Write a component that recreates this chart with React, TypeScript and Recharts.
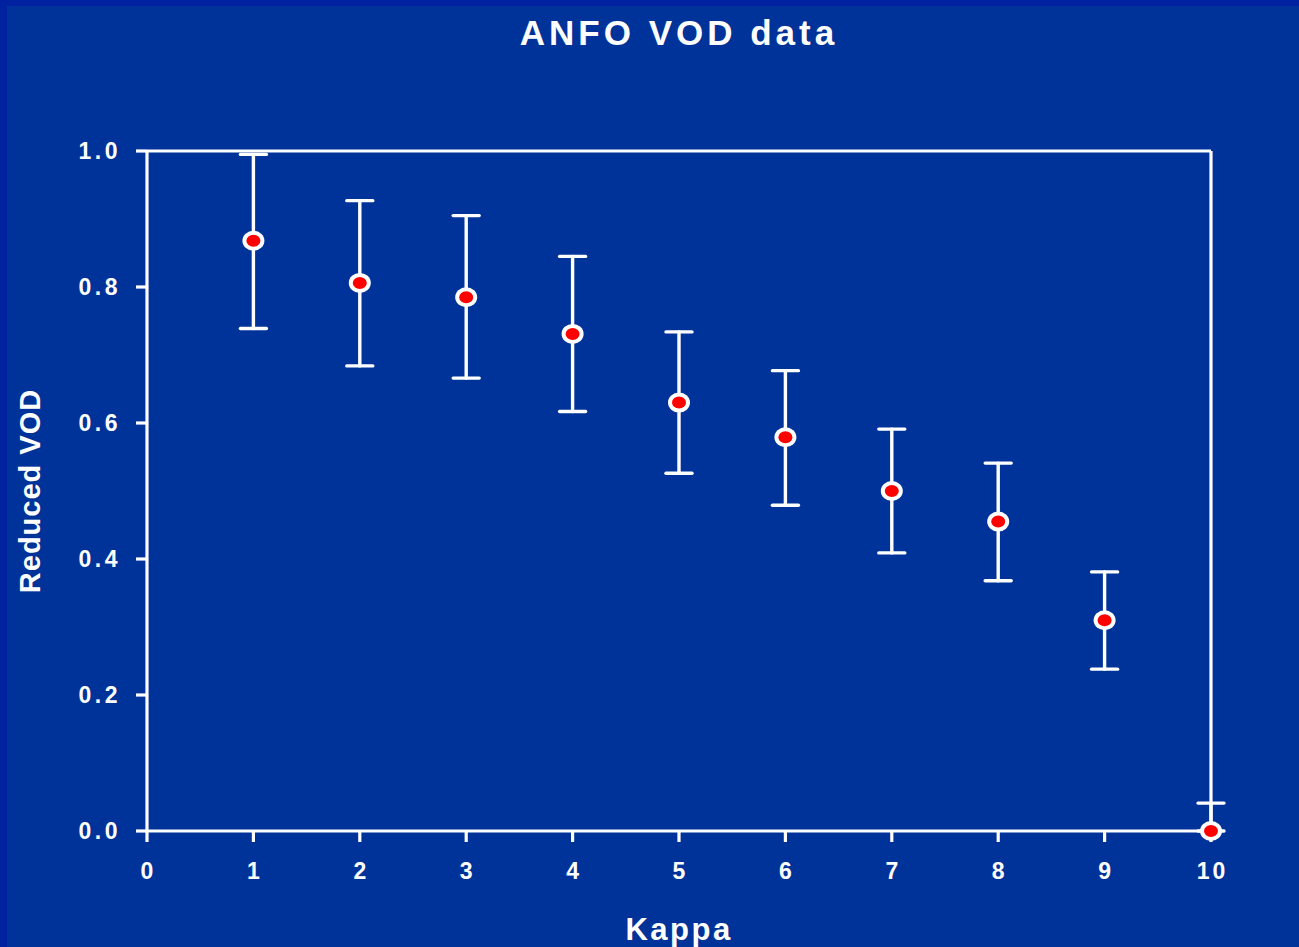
import {
  ComposedChart,
  Scatter,
  ErrorBar,
  XAxis,
  YAxis,
  ReferenceLine,
} from "recharts";

const kappa = [1, 2, 3, 4, 5, 6, 7, 8, 9, 10];
const reducedVod = [0.868, 0.806, 0.785, 0.731, 0.63, 0.579, 0.5, 0.455, 0.31, 0.0];
const upperBound = [0.995, 0.927, 0.905, 0.845, 0.734, 0.677, 0.591, 0.541, 0.381, 0.041];
const lowerBound = [0.739, 0.684, 0.666, 0.617, 0.526, 0.479, 0.409, 0.368, 0.238, 0.0];
const xTicks = [0, 1, 2, 3, 4, 5, 6, 7, 8, 9, 10];
const yTicks = [0, 0.2, 0.4, 0.6, 0.8, 1.0];

const data = kappa.map((k, i) => ({
  kappa: k,
  vod: reducedVod[i],
  err: [reducedVod[i] - lowerBound[i], upperBound[i] - reducedVod[i]],
}));

const FONT = "'Liberation Sans', Arial, sans-serif";
const BG = "#003399";
const EDGE = "#0021a0";

function XTick(props: any) {
  const { x, y, payload } = props;
  return (
    <text
      x={x + 1.5}
      y={y + 16}
      textAnchor="middle"
      fill="#ffffff"
      fontFamily={FONT}
      fontWeight={700}
      fontSize={23}
      letterSpacing={3}
    >
      {payload.value}
    </text>
  );
}

function YTick(props: any) {
  const { x, y, payload } = props;
  return (
    <text
      x={x}
      y={y + 8}
      textAnchor="end"
      fill="#ffffff"
      fontFamily={FONT}
      fontWeight={700}
      fontSize={23}
      letterSpacing={3.5}
    >
      {Number(payload.value).toFixed(1)}
    </text>
  );
}

function Marker(props: any) {
  const { cx, cy } = props;
  if (cx == null || cy == null) return null;
  return (
    <g>
      <ellipse cx={cx} cy={cy} rx={11} ry={10} fill="#ffffff" />
      <ellipse cx={cx} cy={cy} rx={7} ry={6} fill="#ff0000" />
    </g>
  );
}

function XTitle(props: any) {
  const { viewBox } = props;
  const cx = viewBox.x + viewBox.width / 2;
  return (
    <text
      x={cx}
      y={940}
      textAnchor="middle"
      fill="#ffffff"
      fontFamily={FONT}
      fontWeight={700}
      fontSize={31}
      letterSpacing={2.5}
    >
      Kappa
    </text>
  );
}

function YTitle(props: any) {
  const { viewBox } = props;
  const cy = viewBox.y + viewBox.height / 2;
  const x = 40;
  return (
    <text
      x={x}
      y={cy}
      transform={`rotate(-90, ${x}, ${cy})`}
      textAnchor="middle"
      fill="#ffffff"
      fontFamily={FONT}
      fontWeight={700}
      fontSize={29}
      letterSpacing={1}
    >
      Reduced VOD
    </text>
  );
}

const white3 = { stroke: "#ffffff", strokeWidth: 3.2 };

export default function App() {
  return (
    <div
      style={{
        position: "absolute",
        left: 0,
        top: 0,
        width: 1299,
        height: 947,
        background: EDGE,
        overflow: "hidden",
      }}
    >
      <div
        style={{
          position: "absolute",
          left: 7,
          top: 6,
          right: 0,
          bottom: 0,
          background: BG,
        }}
      />
      <div
        style={{
          position: "absolute",
          left: 0,
          top: 13,
          width: 1358,
          textAlign: "center",
          color: "#ffffff",
          fontFamily: FONT,
          fontWeight: 700,
          fontSize: 35,
          letterSpacing: 4,
          lineHeight: "40px",
        }}
      >
        ANFO VOD data
      </div>
      <div style={{ position: "absolute", left: 0, top: 0 }}>
        <ComposedChart
          width={1299}
          height={947}
          data={data}
          margin={{ top: 151, right: 88, bottom: 56, left: 67 }}
        >
          <XAxis
            dataKey="kappa"
            type="number"
            domain={[0, 10]}
            ticks={xTicks}
            interval={0}
            tickSize={11}
            tickMargin={21}
            height={60}
            axisLine={white3}
            tickLine={white3}
            tick={<XTick />}
            label={<XTitle />}
          />
          <YAxis
            type="number"
            domain={[0, 1]}
            ticks={yTicks}
            interval={0}
            tickSize={11}
            tickMargin={15}
            width={80}
            axisLine={white3}
            tickLine={white3}
            tick={<YTick />}
            label={<YTitle />}
          />
          <ReferenceLine y={1} stroke="#ffffff" strokeWidth={3.2} />
          <ReferenceLine x={10} stroke="#ffffff" strokeWidth={3.2} />
          <Scatter
            dataKey="vod"
            shape={<Marker />}
            isAnimationActive={false}
          >
            <ErrorBar
              dataKey="err"
              direction="y"
              width={13}
              stroke="#ffffff"
              strokeWidth={3.4}
              strokeLinecap="round"
              isAnimationActive={false}
            />
          </Scatter>
        </ComposedChart>
      </div>
    </div>
  );
}
